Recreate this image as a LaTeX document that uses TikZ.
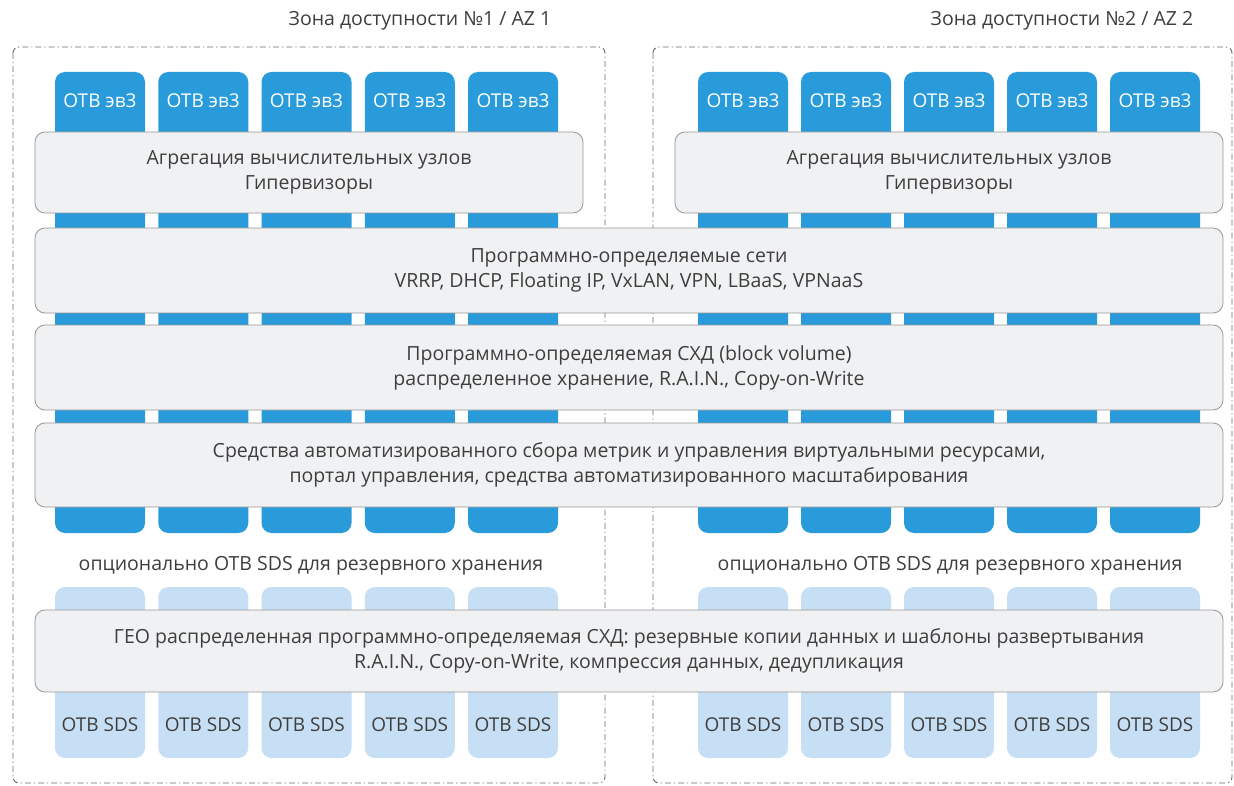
\documentclass[tikz,border=0pt]{standalone}
\usepackage{fontspec}
\setmainfont{Open Sans}
\usetikzlibrary{positioning}

\definecolor{evblue}{RGB}{41,155,219}
\definecolor{sdsblue}{RGB}{199,223,244}
\definecolor{layerfill}{RGB}{240,241,243}
\definecolor{layerline}{RGB}{150,150,150}
\definecolor{zoneline}{RGB}{105,105,105}
\definecolor{txt}{RGB}{62,62,62}

\tikzset{
  zone/.style={draw=zoneline, line width=0.9pt, dash pattern=on 6pt off 3pt on 1.2pt off 3pt, rounded corners=6pt},
  evbar/.style={fill=evblue, rounded corners=10pt},
  sdsbar/.style={fill=sdsblue, rounded corners=10pt},
  barlabel/.style={font=\fontsize{19}{22}\selectfont, inner sep=0pt},
  layer/.style={draw=layerline, fill=layerfill, line width=0.8pt, rounded corners=10pt,
    align=center, text=txt, font=\fontsize{19.5}{25}\selectfont, inner sep=0pt},
  caption/.style={text=txt, font=\fontsize{19.5}{22}\selectfont, inner sep=0pt},
}

\begin{document}
\begin{tikzpicture}[x=1pt,y=-1pt]
  \useasboundingbox (0,0) rectangle (1234,786);

  % availability zones
  \draw[zone] (13,47) rectangle (605,783);
  \draw[zone] (653,47) rectangle (1232,783);
  \node[caption] (az1) at (420,21) {Зона доступности №1 / AZ 1};
  \node[caption] (az2) at (1062,21) {Зона доступности №2 / AZ 2};

  % compute and storage columns
  \foreach \i in {0,...,4} {
    \path[evbar] (55+103.25*\i,72) rectangle +(90,461);
    \node[barlabel, text=white] (evL\i) at (100+103.25*\i,101) {ОТВ эв3};
    \path[evbar] (698+103*\i,72) rectangle +(90,461);
    \node[barlabel, text=white] (evR\i) at (743+103*\i,101) {ОТВ эв3};
    \path[sdsbar] (55+103.25*\i,587) rectangle +(90,171);
    \node[barlabel, text=txt] (sdsL\i) at (100+103.25*\i,725) {ОТВ SDS};
    \path[sdsbar] (698+103*\i,587) rectangle +(90,171);
    \node[barlabel, text=txt] (sdsR\i) at (743+103*\i,725) {ОТВ SDS};
  }

  % layers
  \node[layer, minimum width=548, minimum height=81] (aggL) at (309,172.5)
    {Агрегация вычислительных узлов\\Гипервизоры};
  \node[layer, minimum width=548, minimum height=81] (aggR) at (949,172.5)
    {Агрегация вычислительных узлов\\Гипервизоры};
  \node[layer, minimum width=1188, minimum height=85] (sdn) at (629,270.5)
    {Программно-определяемые сети\\VRRP, DHCP, Floating IP, VxLAN, VPN, LBaaS, VPNaaS};
  \node[layer, minimum width=1188, minimum height=85] (sds) at (629,367.5)
    {Программно-определяемая СХД (block volume)\\распределенное хранение, R.A.I.N., Copy-on-Write};
  \node[layer, minimum width=1188, minimum height=84] (mgmt) at (629,465)
    {Средства автоматизированного сбора метрик и управления виртуальными ресурсами,\\портал управления, средства автоматизированного масштабирования};

  \node[caption] (optL) at (311,566) {опционально ОТВ SDS для резервного хранения};
  \node[caption] (optR) at (950,566) {опционально ОТВ SDS для резервного хранения};

  \node[layer, minimum width=1188, minimum height=82] (geo) at (629,651)
    {ГЕО распределенная программно-определяемая СХД: резервные копии данных и шаблоны развертывания\\R.A.I.N., Copy-on-Write, компрессия данных, дедупликация};
\end{tikzpicture}
\end{document}
